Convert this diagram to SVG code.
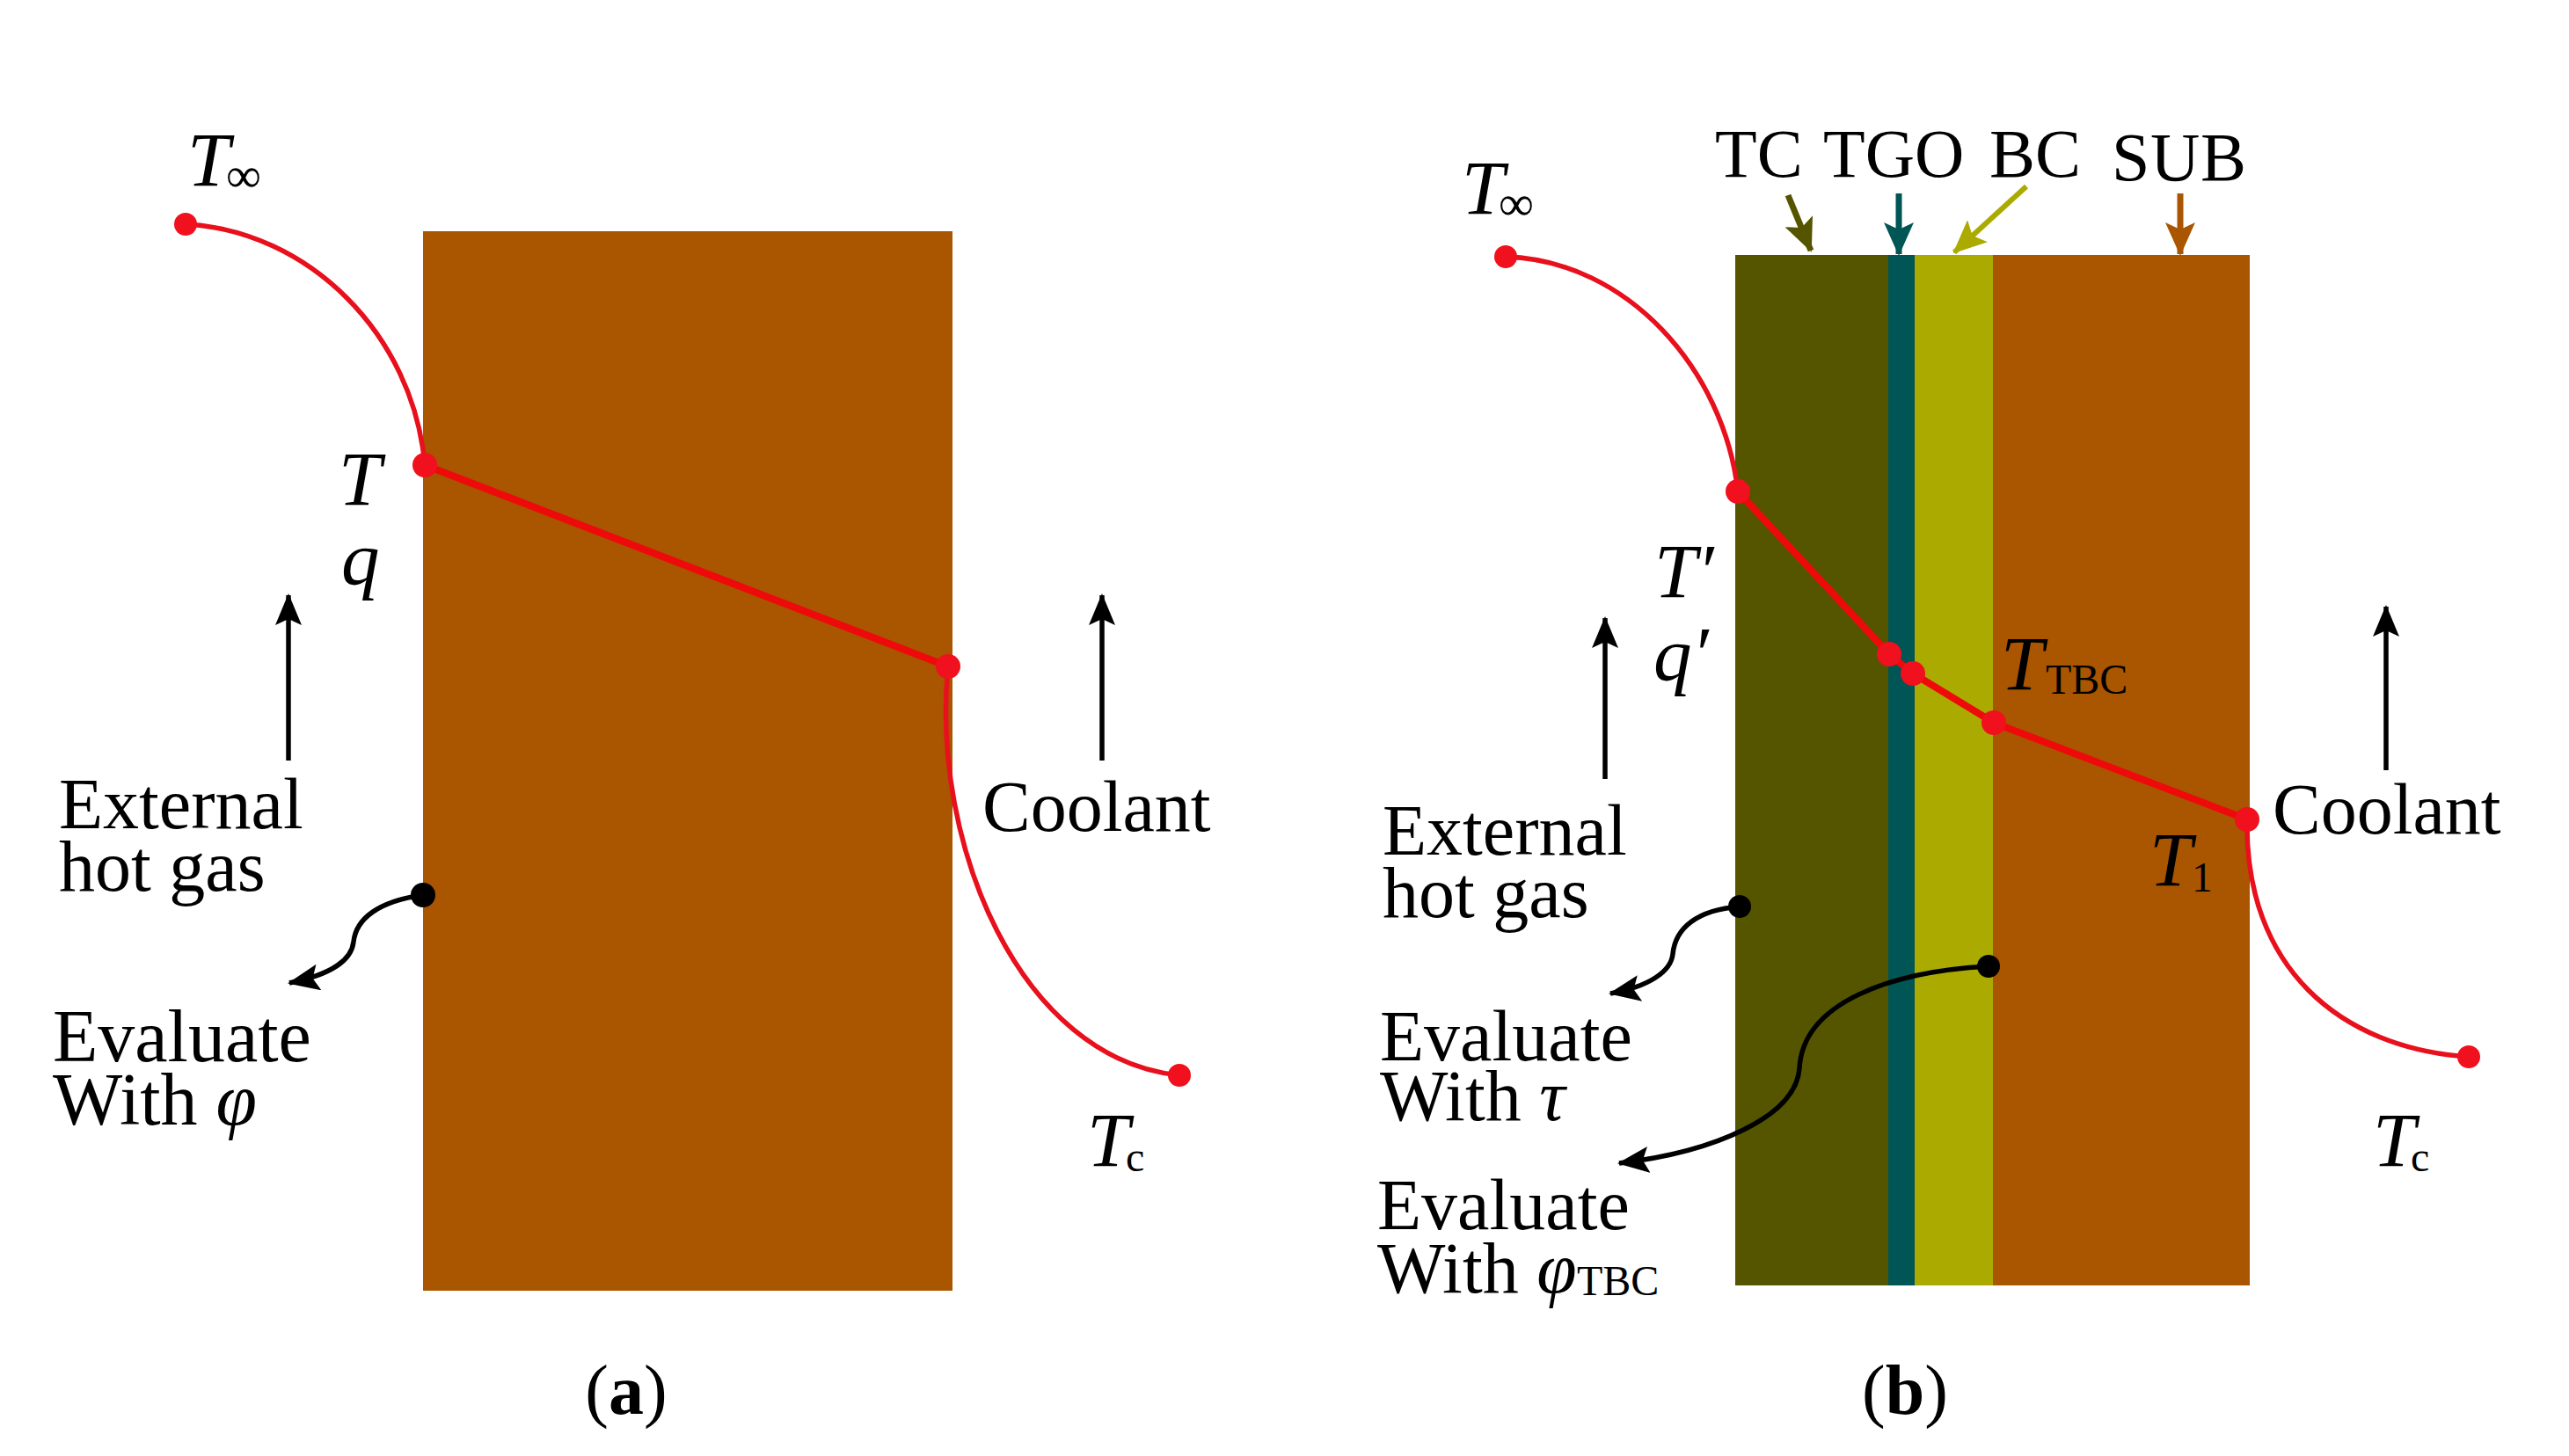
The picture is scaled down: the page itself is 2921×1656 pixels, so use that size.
<svg xmlns="http://www.w3.org/2000/svg" width="2921" height="1656" viewBox="0 0 2921 1656">
<style>
text{font-family:"Liberation Serif","Times New Roman",serif;fill:#000}
.t{font-size:82px}
.e{font-size:84px}
.v{font-size:87px;font-style:italic}
.s{font-size:48px;font-style:normal}
.i{font-size:56px;font-style:normal}
.c{font-size:80px;text-anchor:middle}
.b{font-weight:bold}
.hd{font-size:78px}
.red{fill:none;stroke:#e8101c;stroke-width:5.5}
.redb{fill:none;stroke:#ee0a0a;stroke-width:8}
.blk{fill:none;stroke:#000;stroke-width:5.5}
.dr{fill:#f0101e}
.dk{fill:#000}
</style>
<defs>
<marker id="mk" markerUnits="userSpaceOnUse" viewBox="0 0 36 30" markerWidth="36" markerHeight="30" refX="34" refY="15" orient="auto"><path d="M0 0 L36 15 L0 30 L7 15 Z" fill="#000"/></marker>
<marker id="mo" markerUnits="userSpaceOnUse" viewBox="0 0 38 34" markerWidth="38" markerHeight="34" refX="36" refY="17" orient="auto"><path d="M0 0 L38 17 L0 34 L8 17 Z" fill="#555500"/></marker>
<marker id="mt" markerUnits="userSpaceOnUse" viewBox="0 0 38 34" markerWidth="38" markerHeight="34" refX="36" refY="17" orient="auto"><path d="M0 0 L38 17 L0 34 L8 17 Z" fill="#005555"/></marker>
<marker id="my" markerUnits="userSpaceOnUse" viewBox="0 0 38 34" markerWidth="38" markerHeight="34" refX="36" refY="17" orient="auto"><path d="M0 0 L38 17 L0 34 L8 17 Z" fill="#aaaa00"/></marker>
<marker id="ms" markerUnits="userSpaceOnUse" viewBox="0 0 38 34" markerWidth="38" markerHeight="34" refX="36" refY="17" orient="auto"><path d="M0 0 L38 17 L0 34 L8 17 Z" fill="#aa5500"/></marker>
</defs>

<g id="wall-a"><rect x="481" y="263" width="602" height="1205" fill="#aa5500"/></g>
<g id="wall-b">
<rect x="1973" y="290" width="174" height="1172" fill="#555500"/>
<rect x="2147" y="290" width="30" height="1172" fill="#005555"/>
<rect x="2177" y="290" width="89" height="1172" fill="#aaaa00"/>
<rect x="2266" y="290" width="292" height="1172" fill="#aa5500"/>
</g>

<g id="connectors">
<path class="red" d="M211 255 C350 262 470 380 483 529"/>
<path class="redb" d="M483 529 L1078 758"/>
<path class="red" d="M1078 758 C1058 960 1160 1205 1341 1223"/>
<path class="blk" d="M328 865 V677" marker-end="url(#mk)"/>
<path class="blk" d="M1253 865 V677" marker-end="url(#mk)"/>
<path class="blk" d="M481 1018 C430 1025 405 1045 402 1071 C400 1090 380 1108 329 1118" marker-end="url(#mk)"/>

<path class="red" d="M1712 292 C1850 296 1960 420 1976 559"/>
<path class="redb" d="M1976 559 L2148 744 L2175 766 L2267 822 L2555 932"/>
<path class="red" d="M2555 932 C2552 1100 2660 1192 2807 1202"/>
<path class="blk" d="M1825 886 V703" marker-end="url(#mk)"/>
<path class="blk" d="M2713 876 V690" marker-end="url(#mk)"/>
<path class="blk" d="M1978 1031 C1930 1035 1905 1055 1902 1085 C1900 1105 1875 1122 1831 1130" marker-end="url(#mk)"/>
<path class="blk" d="M2261 1099 C2150 1105 2050 1140 2046 1215 C2042 1270 1950 1310 1841 1323" marker-end="url(#mk)"/>
<path d="M2033 222 L2059 285" fill="none" stroke="#555500" stroke-width="7" marker-end="url(#mo)"/>
<path d="M2159 220 V289" fill="none" stroke="#005555" stroke-width="7" marker-end="url(#mt)"/>
<path d="M2304 212 L2222 287" fill="none" stroke="#aaaa00" stroke-width="6" marker-end="url(#my)"/>
<path d="M2479 220 V289" fill="none" stroke="#aa5500" stroke-width="7" marker-end="url(#ms)"/>
</g>

<g id="points-a">
<circle class="dr" cx="211" cy="255" r="13"/><circle class="dr" cx="483" cy="529" r="14"/><circle class="dr" cx="1078" cy="758" r="14"/><circle class="dr" cx="1341" cy="1223" r="13"/><circle class="dk" cx="481" cy="1018" r="14"/>
</g>
<g id="points-b">
<circle class="dr" cx="1712" cy="292" r="13"/><circle class="dr" cx="1976" cy="559" r="14"/><circle class="dr" cx="2148" cy="744" r="14"/><circle class="dr" cx="2175" cy="766" r="14"/><circle class="dr" cx="2267" cy="822" r="14"/><circle class="dr" cx="2555" cy="932" r="14"/><circle class="dr" cx="2807" cy="1202" r="13"/><circle class="dk" cx="1978" cy="1031" r="13"/><circle class="dk" cx="2261" cy="1099" r="13"/>
</g>

<g id="labels-a">
<text class="v" x="213" y="211">T<tspan class="i" x="257" y="218">∞</tspan></text>
<text class="v" x="385" y="574">T</text>
<text class="v" x="388" y="664">q</text>
<text class="t" x="67" y="942">External<tspan x="67" y="1013">hot gas</tspan></text>
<text class="e" x="60" y="1207">Evaluate<tspan x="60" y="1279">With <tspan font-style="italic">φ</tspan></tspan></text>
<text class="t" x="1117" y="945">Coolant</text>
<text class="v" x="1236" y="1326">T<tspan class="s" x="1280" y="1332">c</tspan></text>
<text class="c" x="712" y="1608">(<tspan class="b">a</tspan>)</text>
</g>
<g id="labels-b">
<text class="hd" x="1950" y="201">TC</text>
<text class="hd" x="2073" y="201">TGO</text>
<text class="hd" x="2262" y="201">BC</text>
<text class="hd" x="2401" y="205" textLength="153">SUB</text>
<text class="v" x="1662" y="243">T<tspan class="i" x="1704" y="250">∞</tspan></text>
<text class="v" x="1881" y="679">T′</text>
<text class="v" x="1880" y="773">q′</text>
<text class="v" x="2275" y="784">T<tspan class="s" x="2326" y="789">TBC</tspan></text>
<text class="t" x="1572" y="972">External<tspan x="1572" y="1043">hot gas</tspan></text>
<text class="t" x="1569" y="1206">Evaluate<tspan x="1569" y="1274">With <tspan font-style="italic">τ</tspan></tspan></text>
<text class="t" x="1566" y="1398">Evaluate<tspan x="1566" y="1470">With <tspan font-style="italic">φ<tspan class="s" font-style="normal" x="1793" y="1473">TBC</tspan></tspan></tspan></text>
<text class="t" x="2584" y="948">Coolant</text>
<text class="v" x="2444" y="1007">T<tspan class="s" x="2492" y="1014">1</tspan></text>
<text class="v" x="2698" y="1326">T<tspan class="s" x="2741" y="1332">c</tspan></text>
<text class="c" x="2166" y="1608">(<tspan class="b">b</tspan>)</text>
</g>
</svg>
